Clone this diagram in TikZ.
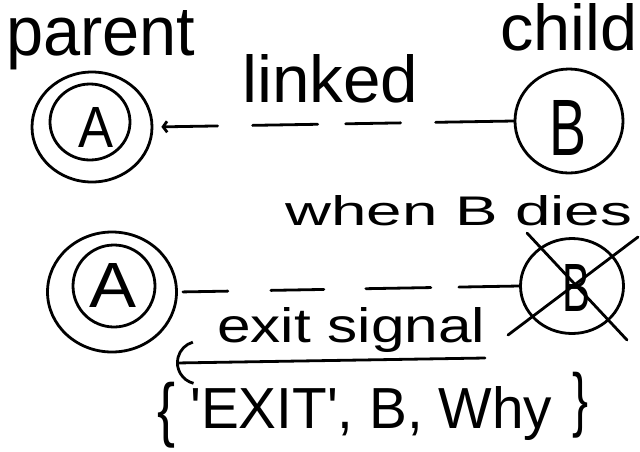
\documentclass[tikz,border=0pt]{standalone}
\usepackage{fontspec}
\setmainfont{Liberation Sans}
\usetikzlibrary{shapes.geometric,arrows.meta}
\newcommand\hwtext[3]{\resizebox{#1}{#2}{#3}}
\newcommand\hwtot[3]{\resizebox*{#1}{#2}{#3}}
\begin{document}
\begin{tikzpicture}[x=1pt,y=-1pt,
  ink/.style={line width=2.8pt, line cap=round, line join=round},
  ring/.style={ink, draw, ellipse, inner sep=0pt},
  lbl/.style={inner sep=0pt, anchor=base west},
  letter/.style={inner sep=0pt},
]
\fill[white] (0,0) rectangle (640,451);
\useasboundingbox (0,0) rectangle (640,451);

% ---------- top: linked ----------
\node[lbl] (parent) at (6,55) {\hwtext{189pt}{45pt}{parent}};
\node[lbl] (child) at (500,50) {\hwtext{137pt}{47pt}{child}};
\node[lbl] (linked) at (242,102) {\hwtext{176pt}{48pt}{linked}};

\node[ring, minimum width=120pt, minimum height=110pt] (A1o) at (92,127) {};
\node[ring, minimum width=80pt, minimum height=76pt] (A1) at (90,122) {};
\node[letter] (A1t) at (96,127) {\hwtext{35pt}{40pt}{A}};

\node[ring, minimum width=108pt, minimum height=104pt] (B1) at (569,121) {};
\node[letter] (B1t) at (568,128) {\hwtext{37pt}{55pt}{B}};

\draw[ink, dash pattern=on 78pt off 35pt on 55pt off 28pt on 65pt off 35pt on 80pt,
      -{Straight Barb[length=4pt,width=11pt]}, shorten >=8pt] (B1.west) -- (A1o.east);

% ---------- bottom: when B dies ----------
\node[lbl] (when) at (285,225) {\hwtext{347pt}{30pt}{when B dies}};

\node[ring, minimum width=129pt, minimum height=120pt] (A2o) at (112,292) {};
\node[ring, minimum width=82pt, minimum height=82pt] (A2) at (114,286) {};
\node[letter] (A2t) at (113,285) {\hwtext{47pt}{44pt}{A}};

\node[ring, minimum width=103pt, minimum height=95pt] (B2) at (572,286) {};
\node[letter] (B2t) at (576,288) {\hwtext{28pt}{47pt}{B}};
\draw[ink] (527,233) -- (627,340);
\draw[ink] (508,335) -- (638,237);

\draw[ink, dash pattern=on 45pt off 43pt on 53pt off 42pt on 65pt off 28pt on 80pt,
      shorten <=5pt] (A2o.east) -- (B2.west);

\node[lbl] (exit) at (217,342) {\hwtext{268pt}{35pt}{exit signal}};
\coordinate (sigS) at (485,358);
\coordinate (sigE) at (176,363);
\draw[ink, -{Arc Barb[arc=150, scale=3.2]}] (sigS) -- (sigE);

\node[letter] (lbrace) at (166,415) {\hwtot{18pt}{66pt}{\{}};
\node[lbl] (tuple) at (190,428) {\hwtext{362pt}{42pt}{\textquotesingle EXIT\textquotesingle, B, Why}};
\node[letter] (rbrace) at (580,405) {\hwtot{16pt}{66pt}{\}}};
\end{tikzpicture}
\end{document}
